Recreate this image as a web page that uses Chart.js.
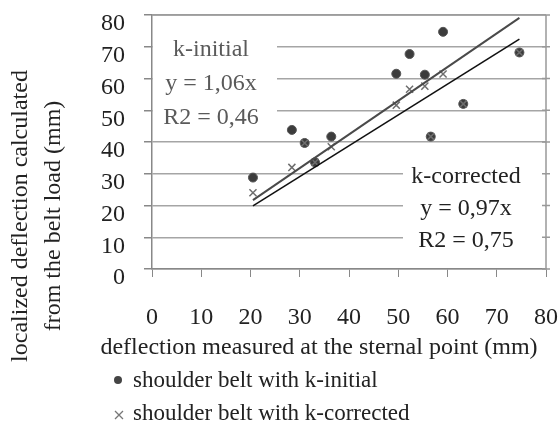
<!DOCTYPE html>
<html>
<head>
<meta charset="utf-8">
<script src="https://cdn.jsdelivr.net/npm/chart.js@4.4.0/dist/chart.umd.min.js"></script>
<style>
  html, body { margin: 0; padding: 0; background: #fff; }
  canvas { display: block; }
</style>
</head>
<body>
<canvas id="deflectionChart" width="558" height="431"></canvas>
<script>
// values
var tickValues = [0, 10, 20, 30, 40, 50, 60, 70, 80];
var sternalX = [20.5, 28.4, 31.0, 33.1, 36.4, 49.6, 52.3, 55.4, 56.6, 59.1, 63.2, 74.6];
var initialY = [28.8, 43.8, 39.7, 33.6, 41.7, 61.5, 67.7, 61.2, 41.7, 74.7, 52.0, 68.2];
var correctedY = [24.0, 32.0, 39.7, 33.6, 38.5, 51.6, 56.6, 57.6, 41.7, 61.4, 52.0, 68.2];
var trendX = [20.5, 74.6];
var trendInitialY = [21.7, 79.1];
var trendCorrectedY = [19.9, 72.4];
var legendLabels = ['shoulder belt with k-initial', 'shoulder belt with k-corrected'];
var initialNote = ['k-initial', 'y = 1,06x', 'R2 = 0,46'];
var correctedNote = ['k-corrected', 'y = 0,97x', 'R2 = 0,75'];
var xTitle = 'deflection measured at the sternal point (mm)';
var yTitle = ['localized deflection calculated', 'from the belt load (mm)'];

var serif = '"Liberation Serif", "Times New Roman", serif';

function toPoints(xs, ys) {
	return xs.map(function (x, i) { return { x: x, y: ys[i] }; });
}

function fixedTicks(s) {
	s.ticks = tickValues.map(function (v) { return { value: v }; });
}

// white boxes with the fit notes, frame, titles and legend
var decorPlugin = {
	id: 'decor',
	beforeDatasetsDraw: function (chart) {
		var ctx = chart.ctx;
		var area = chart.chartArea;
		var yScale = chart.scales.y;
		ctx.save();
		ctx.fillStyle = '#fff';
		ctx.fillRect(153, 24, 124, 102);
		ctx.fillRect(403, 158, 142, 100);

		// top and right frame, small cross ticks on the right
		ctx.strokeStyle = '#999';
		ctx.lineWidth = 1.5;
		ctx.beginPath();
		ctx.moveTo(area.left, area.top);
		ctx.lineTo(area.right, area.top);
		ctx.lineTo(area.right, area.bottom);
		tickValues.forEach(function (v) {
			var py = yScale.getPixelForValue(v);
			ctx.moveTo(area.right - 4, py);
			ctx.lineTo(area.right + 4, py);
		});
		ctx.stroke();

		ctx.font = '24px ' + serif;
		ctx.textAlign = 'center';
		ctx.textBaseline = 'middle';
		ctx.fillStyle = '#5a5a5a';
		[50, 84, 118].forEach(function (y, i) { ctx.fillText(initialNote[i], 211, y); });
		ctx.fillStyle = '#222';
		[177, 209, 241].forEach(function (y, i) { ctx.fillText(correctedNote[i], 466, y); });
		ctx.restore();
	},
	afterDraw: function (chart) {
		var ctx = chart.ctx;
		ctx.save();
		ctx.fillStyle = '#222';
		ctx.textBaseline = 'middle';
		ctx.textAlign = 'center';
		ctx.font = '24px ' + serif;
		ctx.fillText(xTitle, 319, 348);
		ctx.save();
		ctx.translate(21, 216);
		ctx.rotate(-Math.PI / 2);
		ctx.fillText(yTitle[0], 0, 0);
		ctx.fillText(yTitle[1], 0, 33);
		ctx.restore();

		ctx.textAlign = 'left';
		ctx.font = '23px ' + serif;
		ctx.fillText(legendLabels[0], 133, 381);
		ctx.fillText(legendLabels[1], 133, 414);
		ctx.fillStyle = '#444';
		ctx.beginPath();
		ctx.arc(118, 380, 4, 0, Math.PI * 2);
		ctx.fill();
		ctx.strokeStyle = '#777';
		ctx.lineWidth = 1.3;
		ctx.beginPath();
		ctx.moveTo(115, 411); ctx.lineTo(123, 419);
		ctx.moveTo(123, 411); ctx.lineTo(115, 419);
		ctx.stroke();
		ctx.restore();
	}
};

new Chart(document.getElementById('deflectionChart'), {
	type: 'scatter',
	data: {
		datasets: [{
			label: 'trend k-initial',
			type: 'line',
			data: toPoints(trendX, trendInitialY),
			borderColor: '#4a4a4a',
			borderWidth: 2,
			pointRadius: 0,
			order: 0
		}, {
			label: 'trend k-corrected',
			type: 'line',
			data: toPoints(trendX, trendCorrectedY),
			borderColor: '#111',
			borderWidth: 1.6,
			pointRadius: 0,
			order: 0
		}, {
			label: legendLabels[1],
			data: toPoints(sternalX, correctedY),
			pointStyle: 'crossRot',
			pointRadius: 5,
			borderColor: '#6e6e6e',
			borderWidth: 1.5,
			order: 1
		}, {
			label: legendLabels[0],
			data: toPoints(sternalX, initialY),
			pointStyle: 'circle',
			pointRadius: 4.5,
			backgroundColor: '#3c3c3c',
			borderColor: '#555',
			borderWidth: 1,
			order: 2
		}]
	},
	options: {
		responsive: false,
		devicePixelRatio: 1,
		animation: false,
		layout: { padding: { top: 15, right: 12, left: 0, bottom: 0 } },
		plugins: {
			legend: { display: false },
			tooltip: { enabled: false }
		},
		scales: {
			x: {
				type: 'linear',
				min: 0,
				max: 80,
				afterBuildTicks: fixedTicks,
				afterFit: function (s) { s.height = 162; s.paddingLeft = 0; s.paddingRight = 0; },
				grid: { display: true, drawOnChartArea: false, tickLength: 8, color: '#888' },
				border: { color: '#888', width: 1.5 },
				ticks: { autoSkip: false, maxRotation: 0, padding: 26, color: '#222', font: { family: serif, size: 24 } }
			},
			y: {
				type: 'linear',
				min: 0,
				max: 80,
				afterBuildTicks: fixedTicks,
				afterFit: function (s) { s.width = 152; s.paddingTop = 0; s.paddingBottom = 0; },
				grid: { color: '#a5a5a5', lineWidth: 1.5, tickLength: 8, tickColor: '#888' },
				border: { color: '#888', width: 1.5 },
				ticks: { autoSkip: false, padding: 19, labelOffset: 9, color: '#222', font: { family: serif, size: 24 } }
			}
		}
	},
	plugins: [decorPlugin]
});
</script>
</body>
</html>
